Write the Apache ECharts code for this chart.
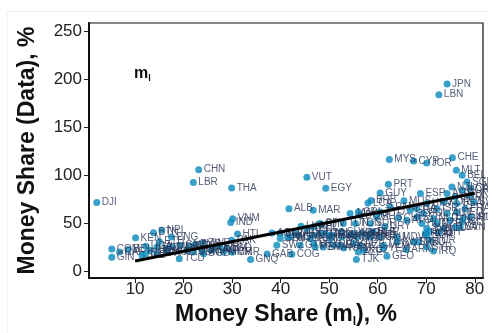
<!DOCTYPE html>
<html>
<head>
<meta charset="utf-8">
<script src="https://cdn.jsdelivr.net/npm/echarts@6/dist/echarts.min.js"></script>
<style>
html,body{margin:0;padding:0;background:#fff;}
#chart{width:488px;height:333px;}
</style>
</head>
<body>
<div id="chart"></div>
<script>
const countries = ["DJI","CHN","LBR","THA","VUT","EGY","ALB","MAR","PRT","GUY","ESP","MUS","MYS","CYP","JOR","CHE","JPN","LBN","MLT","BEL","SGP","CAN",
"VNM","IND","NPL","BTN","KEN","PNG","ETH","COM","GIN","CAF","BDI","SLE","NER","UGA","RWA","MLI","BFA","TZA","MOZ","MDG","TCD","GMB","TGO","BEN","SDN","ZMB","ZWE","GHA","BGD","CUB","LAO","KHM","MMR","LSO","CMR","PAK","HTI","GNQ","GAB","SWZ","COG","AGO","BOL","NIC","HND","SEN","GTM","PRY","PER","DZA","IRN","NGA","RUS","KAZ","MNG","AZE","TJK","KGZ","UKR","BLR","MDA","YEM","GEO","MDV","ARM","SRB","MKD","ROU","SYR","IRQ","EST","BIH","SVN","QAT","URY","CHL","TUN","FJI","TON","LKA","IDN","PHL","COL","ECU","SLV","JAM","DOM","BRA","MEX","VEN","BWA","NAM","ZAF","CRI","TTO","PAN","GRC","ITA","POL","HRV","ISR","KOR","AUS","NZL","GBR","USA","NOR","DNK","SWE","FRA","DEU","AUT","NLD","HUN","CZE","FIN","ISL","IRL","SVK","LTU","LVA","BGR","TUR","KWT","BHR","SAU","MNE","ARG","GRD","DMA","VCT","WSM","CPV","SUR","BHS","ATG","SYC","UZB","BRB","LCA"];
const moneyModel = [2.1,23.1,22.0,29.9,45.4,49.3,41.7,46.7,62.2,60.5,68.8,65.4,62.4,67.4,70.1,75.4,74.3,72.6,76.2,77.4,78.4,79.1,
30.1,29.7,15.5,13.8,10.1,17.5,15.0,5.2,5.2,6.8,8.6,11.4,12.1,12.2,13.1,14.5,14.5,16.5,16.5,17.6,19.1,19.3,20.7,21.3,22.0,22.4,24.0,23.8,24.1,26.1,25.8,27.5,28.2,28.9,30.0,29.9,31.1,33.8,37.2,39.2,42.3,38.2,39.9,41.4,43.7,39.9,44.0,46.8,47.1,48.1,50.2,50.9,52.3,54.3,55.7,56.0,55.6,57.1,58.5,58.8,61.2,61.2,61.9,64.0,65.9,67.4,68.4,69.8,70.1,71.5,70.6,72.6,77.0,77.6,61.5,64.3,52.9,48.3,55.4,44.2,45.4,46.8,49.2,50.6,52.6,54.3,56.4,56.7,43.0,46.1,48.8,53.0,55.0,56.0,60.5,62.6,66.7,68.1,69.4,70.1,72.2,73.6,74.3,75.3,76.0,76.3,77.4,79.1,79.8,78.0,76.3,74.3,71.5,69.1,72.2,74.9,77.4,79.1,70.1,73.6,76.0,70.1,70.8,64.0,59.1,60.5,57.8,55.0,52.6,50.2,46.8,42.0,48.1,58.5,59.8,66.0,68.1,56.4,58.6,58.0];
const moneyData = [71.3,105.7,92.2,86.6,97.7,86.2,65.0,63.3,90.4,81.3,80.7,73.2,116.2,114.7,112.6,118.2,195.0,183.9,105.0,99.8,92.8,86.6,
54.5,50.5,42.4,40.0,34.6,35.5,30.6,23.0,14.3,19.8,22.3,16.4,18.1,25.8,21.6,25.0,18.1,23.4,19.8,25.0,12.9,26.8,21.6,25.8,19.8,27.8,29.2,21.6,18.1,23.4,21.6,25.0,19.8,23.4,19.5,32.0,38.5,11.9,17.6,26.8,17.4,39.6,39.6,35.5,37.2,33.8,26.8,28.6,25.0,39.0,37.2,26.8,26.8,37.2,35.5,19.8,11.9,21.6,35.5,40.7,26.8,23.4,15.3,35.5,22.3,30.2,30.2,39.0,25.0,20.9,41.4,40.7,45.3,55.0,46.5,55.5,49.5,48.5,49.4,46.6,44.2,45.9,39.0,37.2,40.7,60.0,58.1,39.0,39.0,33.8,25.0,24.0,28.6,61.5,61.5,66.7,63.3,65.0,59.9,70.3,65.0,72.0,80.7,87.6,77.2,70.3,84.2,79.0,72.0,65.0,61.5,59.9,54.6,49.4,49.4,52.9,51.1,56.3,44.2,44.2,45.9,37.2,32.0,30.2,40.7,35.5,37.2,39.0,35.5,33.8,37.2,35.5,49.4,49.4,56.3,52.9,56.3,26.8,73.5,71.0];
const fitX = [10, 80];
const fitY = [10.5, 81];
const xTicks = [10,20,30,40,50,60,70,80];
const yTicks = [0,50,100,150,200,250];

const points = countries.map((c,i)=>({name:c, value:[moneyModel[i], moneyData[i]]}));
const fitLine = fitX.map((x,i)=>[x, fitY[i]]);

const FONT = "'Liberation Sans', Arial, sans-serif";
const chart = echarts.init(document.getElementById('chart'), null, {renderer:'canvas'});
chart.setOption({
  animation:false,
  backgroundColor:'#ffffff',
  textStyle:{fontFamily:FONT},
  graphic:[{type:'rect', shape:{x:7.5,y:11.5,width:500,height:340}, style:{fill:'none', stroke:'#eef3f3', lineWidth:1}, silent:true, z:-10}],
  title:{
    left:129, top:60,
    text:'{a|m}{s|l}',
    textStyle:{rich:{
      a:{fontSize:16, fontWeight:'bold', color:'#111', fontFamily:FONT, lineHeight:18},
      s:{fontSize:9, fontWeight:'bold', color:'#111', fontFamily:FONT, verticalAlign:'bottom', lineHeight:18, padding:[4,0,0,0]}
    }}
  },
  grid:{left:89, right:5, top:23, bottom:55, show:true, borderColor:'#111', borderWidth:1.2, backgroundColor:'transparent'},
  xAxis:{
    type:'value', min:0.5, max:81.7,
    splitLine:{show:false},
    axisLine:{show:true, onZero:false, lineStyle:{color:'#111', width:2}},
    axisTick:{show:true, length:5, lineStyle:{color:'#222', width:1}, customValues:xTicks},
    axisLabel:{fontSize:17, color:'#222', margin:3, fontFamily:FONT, customValues:xTicks},
    name:'{a|Money Share (m}{s|l}{a|), %}',
    nameLocation:'middle', nameGap:22,
    nameTextStyle:{rich:{
      a:{fontSize:23, fontWeight:'bold', color:'#111', fontFamily:FONT, lineHeight:26},
      s:{fontSize:12, fontWeight:'bold', color:'#111', fontFamily:FONT, verticalAlign:'bottom', lineHeight:26, padding:[7,0,0,0]}
    }}
  },
  yAxis:{
    type:'value', min:-7.3, max:258.6,
    splitLine:{show:false},
    axisLine:{show:true, onZero:false, lineStyle:{color:'#111', width:2}},
    axisTick:{show:true, length:5, lineStyle:{color:'#222', width:1}, customValues:yTicks},
    axisLabel:{fontSize:17, color:'#222', margin:7, fontFamily:FONT, customValues:yTicks},
    name:'Money Share (Data), %',
    nameLocation:'middle', nameGap:50,
    nameTextStyle:{fontSize:23, fontWeight:'bold', color:'#111', fontFamily:FONT}
  },
  series:[
    {
      type:'scatter', data:points, symbolSize:7,
      itemStyle:{color:'#0888bc'},
      label:{show:true, position:'right', distance:1.5, formatter:'{b}', fontSize:10, color:'#2b3556', fontFamily:FONT},
      labelLayout:{hideOverlap:false},
      z:2
    },
    {
      type:'line', data:fitLine, symbol:'none',
      lineStyle:{color:'#000', width:3},
      z:5
    }
  ]
});
</script>
</body>
</html>
